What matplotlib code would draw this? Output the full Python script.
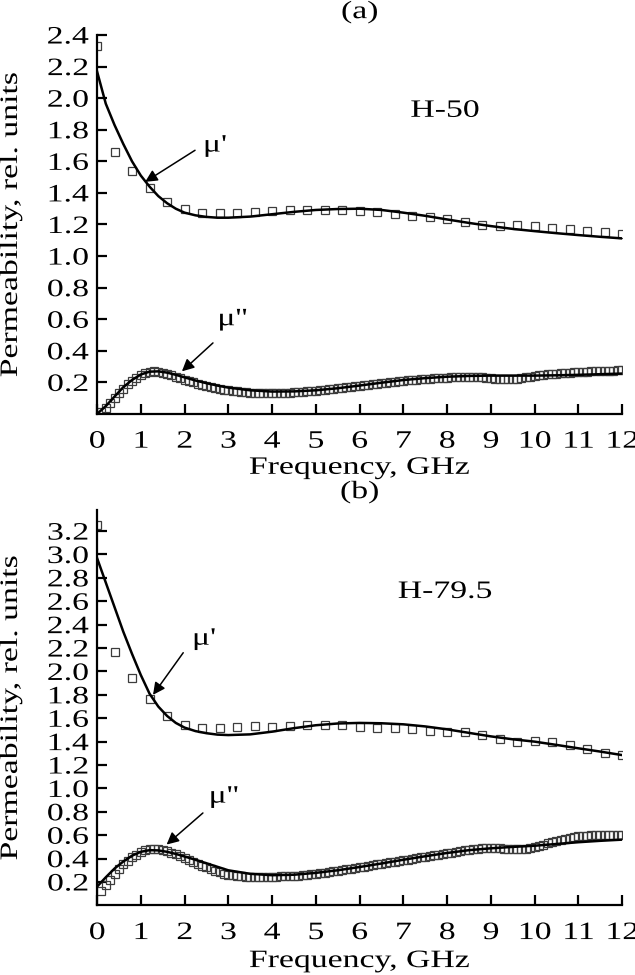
import matplotlib
matplotlib.use("Agg")
import matplotlib.pyplot as plt
from matplotlib.patheffects import AbstractPathEffect
from matplotlib.transforms import Affine2D

plt.rcParams['font.family'] = ['Liberation Serif', 'DejaVu Serif']

# Measured mu' (squares), every 0.4 GHz
f_sq = [0.0, 0.4, 0.8, 1.2, 1.6, 2.0, 2.4, 2.8, 3.2, 3.6, 4.0, 4.4, 4.8, 5.2, 5.6, 6.0,
        6.4, 6.8, 7.2, 7.6, 8.0, 8.4, 8.8, 9.2, 9.6, 10.0, 10.4, 10.8, 11.2, 11.6, 12.0]
mu1_a_meas = [2.33, 1.66, 1.54, 1.43, 1.34, 1.30, 1.27, 1.27, 1.27, 1.28, 1.285, 1.29, 1.29, 1.29, 1.29, 1.285,
              1.28, 1.266, 1.255, 1.245, 1.232, 1.215, 1.198, 1.19, 1.198, 1.19, 1.18, 1.17, 1.157, 1.15, 1.14]
mu1_b_meas = [3.25, 2.163, 1.946, 1.764, 1.62, 1.54, 1.515, 1.52, 1.527, 1.53, 1.527, 1.533, 1.54, 1.545, 1.54, 1.527,
              1.519, 1.515, 1.505, 1.493, 1.485, 1.48, 1.456, 1.42, 1.40, 1.408, 1.394, 1.371, 1.334, 1.30, 1.285]

# Measured mu'' (dense squares), 0.1 .. 12.0 GHz
f_dense = [round(0.1 * i, 1) for i in range(1, 121)]
mu2_a_meas = [
    0.01, 0.04, 0.07, 0.10, 0.13, 0.16, 0.19, 0.21, 0.23, 0.25,
    0.26, 0.265, 0.27, 0.265, 0.26, 0.255, 0.245, 0.235, 0.225, 0.215,
    0.207, 0.20, 0.192, 0.185, 0.178, 0.172, 0.166, 0.16, 0.155, 0.15,
    0.146, 0.143, 0.14, 0.137, 0.135, 0.133, 0.132, 0.131, 0.131, 0.131,
    0.132, 0.133, 0.134, 0.135, 0.137, 0.139, 0.141, 0.143, 0.145, 0.148,
    0.151, 0.154, 0.157, 0.16, 0.163, 0.166, 0.169, 0.172, 0.175, 0.178,
    0.181, 0.184, 0.187, 0.19, 0.194, 0.198, 0.202, 0.205, 0.208, 0.211,
    0.213, 0.215, 0.217, 0.219, 0.221, 0.223, 0.225, 0.227, 0.229, 0.231,
    0.233, 0.235, 0.236, 0.237, 0.237, 0.236, 0.234, 0.232, 0.229, 0.226,
    0.223, 0.221, 0.22, 0.22, 0.221, 0.223, 0.227, 0.232, 0.237, 0.242,
    0.246, 0.249, 0.252, 0.254, 0.256, 0.258, 0.26, 0.262, 0.264, 0.266,
    0.267, 0.268, 0.27, 0.271, 0.272, 0.273, 0.274, 0.275, 0.276, 0.277]
mu2_b_meas = [
    0.12, 0.17, 0.22, 0.27, 0.31, 0.35, 0.38, 0.41, 0.435, 0.455,
    0.47, 0.478, 0.48, 0.478, 0.472, 0.462, 0.45, 0.436, 0.42, 0.404,
    0.388, 0.372, 0.356, 0.34, 0.325, 0.31, 0.296, 0.283, 0.272, 0.263,
    0.256, 0.251, 0.248, 0.246, 0.245, 0.245, 0.245, 0.245, 0.245, 0.245,
    0.246, 0.247, 0.248, 0.25, 0.252, 0.255, 0.258, 0.262, 0.266, 0.27,
    0.275, 0.28, 0.285, 0.29, 0.296, 0.302, 0.308, 0.314, 0.32, 0.326,
    0.332, 0.338, 0.344, 0.35, 0.356, 0.362, 0.368, 0.374, 0.38, 0.386,
    0.392, 0.398, 0.404, 0.41, 0.416, 0.422, 0.428, 0.434, 0.44, 0.446,
    0.452, 0.458, 0.464, 0.47, 0.475, 0.48, 0.484, 0.487, 0.489, 0.49,
    0.489, 0.487, 0.484, 0.481, 0.479, 0.478, 0.48, 0.485, 0.492, 0.5,
    0.51, 0.52, 0.53, 0.54, 0.55, 0.56, 0.57, 0.578, 0.585, 0.59,
    0.594, 0.597, 0.599, 0.6, 0.601, 0.601, 0.601, 0.6, 0.6, 0.6]

# Fitted curves (solid lines)
f_fit = [0, 0.2, 0.4, 0.6, 0.8, 1.0, 1.2, 1.4, 1.6, 1.8, 2.0, 2.25, 2.5, 2.75, 3.0, 3.5, 4.0,
         4.5, 5.0, 5.5, 6.0, 6.5, 7.0, 7.5, 8.0, 8.5, 9.0, 9.5, 10.0, 10.5, 11.0, 11.5, 12.0]
mu1_a_fit = [2.17, 1.965, 1.83, 1.71, 1.60, 1.51, 1.44, 1.38, 1.335, 1.30, 1.275, 1.258, 1.248, 1.243, 1.243, 1.25, 1.265,
             1.28, 1.292, 1.298, 1.30, 1.292, 1.275, 1.255, 1.232, 1.21, 1.19, 1.172, 1.158, 1.145, 1.133, 1.122, 1.112]
mu2_a_fit = [0.0, 0.05, 0.11, 0.17, 0.215, 0.25, 0.268, 0.27, 0.262, 0.248, 0.232, 0.212, 0.195, 0.18, 0.167, 0.15, 0.142,
             0.143, 0.15, 0.163, 0.18, 0.198, 0.215, 0.227, 0.236, 0.241, 0.243, 0.243, 0.243, 0.245, 0.248, 0.252, 0.256]
mu1_b_fit = [2.97, 2.76, 2.55, 2.34, 2.15, 1.97, 1.81, 1.70, 1.62, 1.56, 1.52, 1.49, 1.472, 1.46, 1.456, 1.462, 1.485,
             1.515, 1.54, 1.555, 1.56, 1.557, 1.548, 1.53, 1.505, 1.475, 1.445, 1.42, 1.40, 1.372, 1.343, 1.315, 1.285]
mu2_b_fit = [0.16, 0.24, 0.315, 0.375, 0.425, 0.458, 0.472, 0.47, 0.458, 0.44, 0.418, 0.39, 0.36, 0.33, 0.3, 0.27, 0.258,
             0.262, 0.278, 0.3, 0.328, 0.358, 0.39, 0.42, 0.448, 0.472, 0.488, 0.5, 0.51, 0.525, 0.54, 0.552, 0.562]

FS = 18
SX = 1.35  # the original lettering is wider than plain Times


class Stretch(AbstractPathEffect):
    """Widen a text glyph path along its baseline, keeping the anchor fixed."""
    def __init__(self, sx, anchor):
        super().__init__()
        self.sx = sx
        self.anchor = anchor

    def draw_path(self, renderer, gc, tpath, affine, rgbFace=None):
        w = tpath.get_extents().x1
        shift = -(self.sx - 1) * w * self.anchor
        tr = Affine2D().scale(self.sx, 1).translate(shift, 0) + affine
        renderer.draw_path(gc, tpath, tr, rgbFace)


def wide(t, anchor):
    t.set_path_effects([Stretch(SX, anchor)])
    return t


fig = plt.figure(figsize=(6.35, 9.75), dpi=100)
H = 975.0


def panel(rect, ylim, yticks, m1, m2, fit1, fit2, name, letter, letter_y, ann1, ann2, name_pos):
    ax = fig.add_axes(rect)
    sq = dict(ls='none', marker='s', ms=5.5, mfc='none', mec='#3c3c3c', mew=0.9)
    ax.plot(f_sq, m1, **sq)
    ax.plot(f_dense, m2, **sq)
    ax.plot(f_fit, fit1, color='black', lw=1.8)
    ax.plot(f_fit, fit2, color='black', lw=1.8)
    ax.set_xlim(0, 12)
    ax.set_ylim(*ylim)
    ax.set_xticks(range(13))
    ax.set_yticks(yticks)
    ax.set_yticklabels([f"{t:.1f}" for t in yticks])
    for s in ['top', 'right']:
        ax.spines[s].set_visible(False)
    for s in ['left', 'bottom']:
        ax.spines[s].set_linewidth(1.6)
    ax.tick_params(direction='in', length=7, width=1.6, labelsize=FS)
    ax.tick_params(axis='x', pad=12)
    ax.tick_params(axis='y', pad=6)
    for t in ax.get_xticklabels():
        wide(t, 0.5)
    for t in ax.get_yticklabels():
        wide(t, 1.0)
    wide(ax.set_xlabel("Frequency, GHz", fontsize=FS), 0.5)
    wide(ax.set_ylabel("Permeability, rel. units", fontsize=FS), 0.5)
    ax.xaxis.set_label_coords(0.5, -0.113)
    ax.yaxis.set_label_coords(-0.143, 0.5)
    wide(fig.text(rect[0] + rect[2] / 2, 1 - letter_y / H, letter,
                  fontsize=FS, ha='center', va='center'), 0.5)
    wide(ax.text(name_pos[0], name_pos[1], name, fontsize=FS, ha='center', va='center'), 0.5)
    for (txt, head, tail, tpos) in (ann1, ann2):
        ax.annotate("", xy=head, xytext=tail,
                    arrowprops=dict(arrowstyle='-|>', color='black', lw=1.1,
                                    mutation_scale=18, shrinkA=0, shrinkB=0))
        wide(ax.text(tpos[0], tpos[1], txt, fontsize=FS, ha='left', va='center'), 0.0)
    return ax


yt_a = [round(0.2 * i, 1) for i in range(1, 13)]
panel([0.1528, 0.5754, 0.8268, 0.3887], (0, 2.4), yt_a,
      mu1_a_meas, mu2_a_meas, mu1_a_fit, mu2_a_fit, "H-50", "(a)", 12,
      ("μ'", (1.10, 1.47), (2.24, 1.67), (2.42, 1.70)),
      ("μ''", (1.94, 0.27), (2.65, 0.45), (2.75, 0.60)),
      (7.95, 1.92))

yt_b = [round(0.2 * i, 1) for i in range(1, 17)]
panel([0.1528, 0.0714, 0.8268, 0.4055], (0, 3.38), yt_b,
      mu1_b_meas, mu2_b_meas, mu1_b_fit, mu2_b_fit, "H-79.5", "(b)", 492,
      ("μ'", (1.28, 1.80), (1.97, 2.16), (2.17, 2.28)),
      ("μ''", (1.59, 0.52), (2.42, 0.79), (2.55, 0.93)),
      (7.95, 2.68))

fig.savefig("out.png", dpi=100)
